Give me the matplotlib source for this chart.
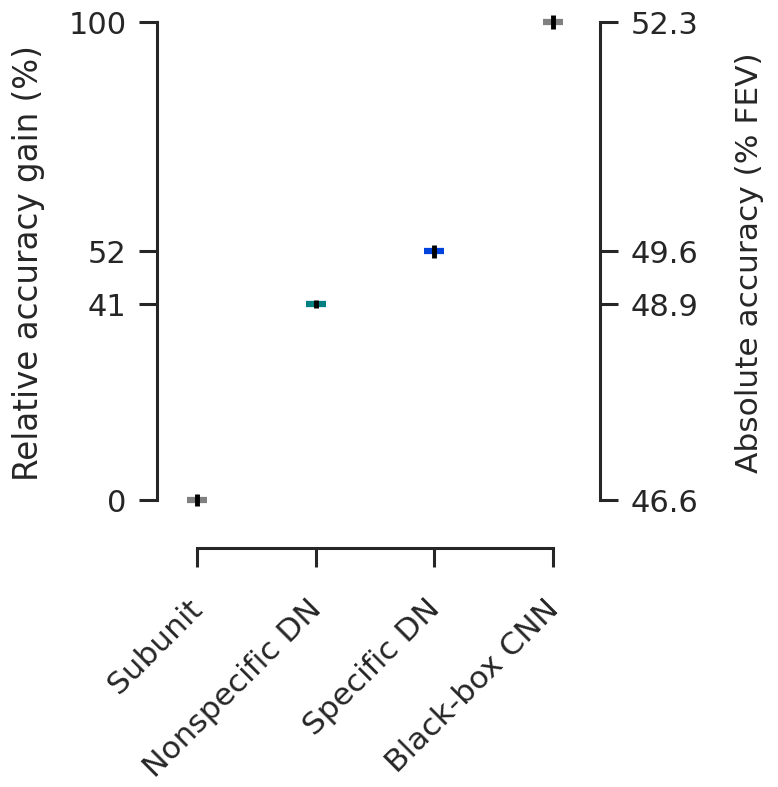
import matplotlib
matplotlib.use("Agg")
import matplotlib.pyplot as plt
import matplotlib.transforms as mtransforms
import numpy as np

# data
models = ["Subunit", "Nonspecific DN", "Specific DN", "Black-box CNN"]
rel_gain = [0, 41, 52, 100]
rel_err = [1.25, 0.75, 1.35, 1.55]
colors = ["#808080", "#008080", "#0044dd", "#808080"]
right_ticks = [0, 41, 52, 100]
right_labels = ["46.6", "48.9", "49.6", "52.3"]

plt.rcParams["font.family"] = "DejaVu Sans"
plt.rcParams["text.color"] = "#262626"
plt.rcParams["axes.labelcolor"] = "#262626"
plt.rcParams["xtick.color"] = "#262626"
plt.rcParams["ytick.color"] = "#262626"
plt.rcParams["axes.edgecolor"] = "#262626"

fig = plt.figure(figsize=(7.78, 7.87), dpi=100)
W, H = 778, 787
ax = fig.add_axes([157 / W, 1 - 548 / H, (600 - 157) / W, (548 - 22) / H])

x = np.arange(len(models))
for xi, yi, ei, c in zip(x, rel_gain, rel_err, colors):
    ax.plot(xi, yi, marker="_", markersize=15, mew=4.5, color=c, clip_on=False, zorder=2)
    ax.errorbar(xi, yi, yerr=ei, fmt="none", ecolor="black", elinewidth=3.5,
                capsize=0, clip_on=False, zorder=3)

ax.set_xlim(-0.337, 3.395)
ax.set_ylim(-10.04, 100)

for s in ["top", "right"]:
    ax.spines[s].set_visible(False)
ax.spines["left"].set_bounds(0, 100)
ax.spines["bottom"].set_bounds(0, 3)
for s in ["left", "bottom"]:
    ax.spines[s].set_linewidth(2.2)

ax.set_yticks(rel_gain)
ax.set_yticklabels([str(v) for v in rel_gain])
ax.set_xticks(x)
ax.set_xticklabels(models, rotation=45, ha="right")
ax.tick_params(axis="y", labelsize=22, length=13, width=2.2, pad=9)
ax.tick_params(axis="x", labelsize=22.5, length=14, width=2.2, pad=12)
shift = mtransforms.ScaledTranslation(0.11, -0.10, fig.dpi_scale_trans)
for lab in ax.get_xticklabels():
    lab.set_transform(lab.get_transform() + shift)
ax.set_ylabel("Relative accuracy gain (%)", fontsize=23.5)
ax.yaxis.set_label_coords(-0.253, 0.542)

ax2 = ax.twinx()
ax2.set_ylim(ax.get_ylim())
for s in ["top", "left", "bottom"]:
    ax2.spines[s].set_visible(False)
ax2.spines["right"].set_bounds(0, 100)
ax2.spines["right"].set_linewidth(2.2)
ax2.set_yticks(right_ticks)
ax2.set_yticklabels(right_labels)
ax2.tick_params(axis="y", labelsize=22, length=13, width=2.2, pad=9)
ax2.set_ylabel("Absolute accuracy (% FEV)", fontsize=22.5)
ax2.yaxis.set_label_coords(1.305, 0.542)

fig.savefig("out.png", dpi=100)
